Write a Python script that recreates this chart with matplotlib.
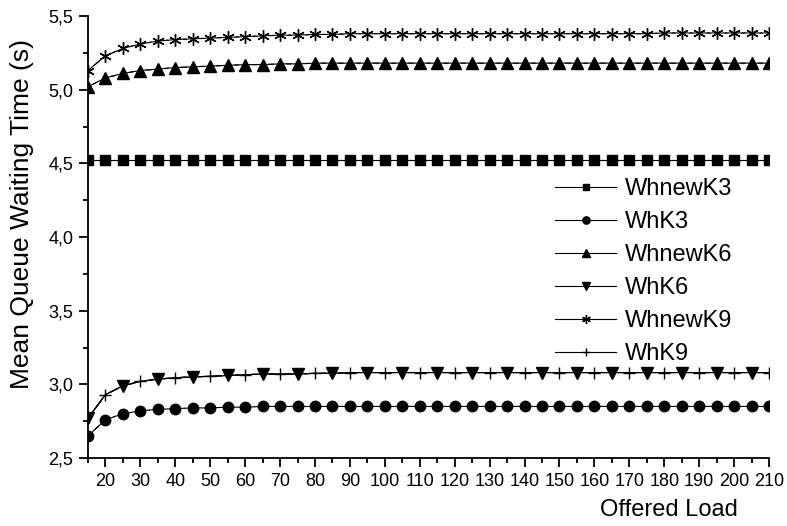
import matplotlib
matplotlib.use("Agg")
import matplotlib.pyplot as plt
from matplotlib.ticker import MultipleLocator, FuncFormatter

plt.rcParams['font.family'] = ['Liberation Sans', 'DejaVu Sans']

offered_load = list(range(15, 211, 5))  # 40 points

whnew_k3 = [4.525] * 40
wh_k3 = [2.65, 2.76, 2.80, 2.82, 2.83, 2.835, 2.84, 2.84, 2.845, 2.845,
         2.85, 2.85, 2.85, 2.85, 2.85, 2.85, 2.85, 2.85, 2.85, 2.85,
         2.85, 2.85, 2.85, 2.85, 2.85, 2.85, 2.85, 2.85, 2.85, 2.85,
         2.85, 2.85, 2.85, 2.85, 2.85, 2.85, 2.85, 2.85, 2.85, 2.85]
whnew_k6 = [5.02, 5.08, 5.11, 5.13, 5.14, 5.15, 5.155, 5.16, 5.165, 5.17,
            5.17, 5.175, 5.175, 5.18, 5.18, 5.18, 5.18, 5.18, 5.18, 5.18,
            5.18, 5.18, 5.18, 5.18, 5.18, 5.18, 5.18, 5.18, 5.18, 5.18,
            5.18, 5.18, 5.18, 5.18, 5.18, 5.18, 5.18, 5.18, 5.18, 5.18]
wh_k6 = [2.77, 2.93, 2.99, 3.02, 3.035, 3.045, 3.05, 3.055, 3.06, 3.065,
         3.07, 3.07, 3.07, 3.075, 3.075, 3.08, 3.08, 3.08, 3.08, 3.08,
         3.08, 3.08, 3.08, 3.08, 3.08, 3.08, 3.08, 3.08, 3.08, 3.08,
         3.08, 3.08, 3.08, 3.08, 3.08, 3.08, 3.08, 3.08, 3.08, 3.08]
whnew_k9 = [5.13, 5.23, 5.28, 5.31, 5.33, 5.34, 5.345, 5.35, 5.355, 5.36,
            5.365, 5.37, 5.37, 5.375, 5.375, 5.38, 5.38, 5.38, 5.38, 5.38,
            5.38, 5.38, 5.38, 5.38, 5.38, 5.38, 5.38, 5.38, 5.38, 5.38,
            5.38, 5.38, 5.38, 5.385, 5.385, 5.385, 5.385, 5.385, 5.385, 5.385]
wh_k9 = list(wh_k6)

labels = ["WhnewK3", "WhK3", "WhnewK6", "WhK6", "WhnewK9", "WhK9"]

fig = plt.figure(figsize=(7.87, 5.26), dpi=100)
ax = fig.add_axes([88/787, 1-458/526, (769-88)/787, (458-16)/526])

series = [
    (whnew_k3, 's', 6.5, 1.0, None, labels[0]),
    (wh_k3, 'o', 7.5, 1.0, None, labels[1]),
    (whnew_k6, '^', 8, 1.0, None, labels[2]),
    (wh_k6, 'v', 8, 1.0, slice(0, None, 2), labels[3]),
    (whnew_k9, (6, 2, 0), 9, 1.0, None, labels[4]),
    (wh_k9, '+', 8, 1.0, slice(1, None, 2), labels[5]),
]

# connecting lines
for y, m, ms, mew, every, lab in series:
    ax.plot(offered_load, y, '-', color='black', lw=0.8, zorder=1)
# white halos around markers (gap between line and marker)
for y, m, ms, mew, every, lab in series:
    ax.plot(offered_load, y, ls='none', marker=m, ms=ms + 1, color='white',
            mec='white', mew=mew + 3, markevery=every, zorder=2)
# black markers (with legend entries)
handles = []
for y, m, ms, mew, every, lab in series:
    h, = ax.plot(offered_load, y, '-', color='black', lw=0.8, marker=m, ms=ms,
                 mew=mew, markevery=every, label=lab, zorder=3)
    handles.append(h)

ax.set_xlim(15, 210)
ax.set_ylim(2.5, 5.5)
ax.xaxis.set_minor_locator(MultipleLocator(5))
ax.yaxis.set_major_locator(MultipleLocator(0.5))
ax.yaxis.set_minor_locator(MultipleLocator(0.25))
ax.set_xticks(list(range(20, 211, 10)))
ax.yaxis.set_major_formatter(FuncFormatter(lambda v, p: f"{v:.1f}".replace('.', ',')))

for s in ['top', 'right']:
    ax.spines[s].set_visible(False)
for s in ['left', 'bottom']:
    ax.spines[s].set_linewidth(1.3)
ax.tick_params(axis='both', which='major', direction='out', length=6.5, width=1.3,
               labelsize=13, pad=4)
ax.tick_params(axis='both', which='minor', direction='out', length=3.5, width=1.3)

ax.set_xlabel("Offered Load", fontsize=17, ha='right', va='center')
ax.xaxis.set_label_coords((738-88)/681, -(510-458)/442)
ax.set_ylabel("Mean Queue Waiting Time (s)", fontsize=19, va='center')
ax.yaxis.set_label_coords((22-88)/681, (458-214)/442)

leg = ax.legend(handles=handles, labels=labels, loc='upper left',
                bbox_to_anchor=(555/787, 1-178/526),
                bbox_transform=fig.transFigure, frameon=False, fontsize=17,
                handlelength=2.6, handletextpad=0.34, labelspacing=0.47,
                borderpad=0, borderaxespad=0, markerscale=0.7)

fig.savefig("out.png", dpi=100)
